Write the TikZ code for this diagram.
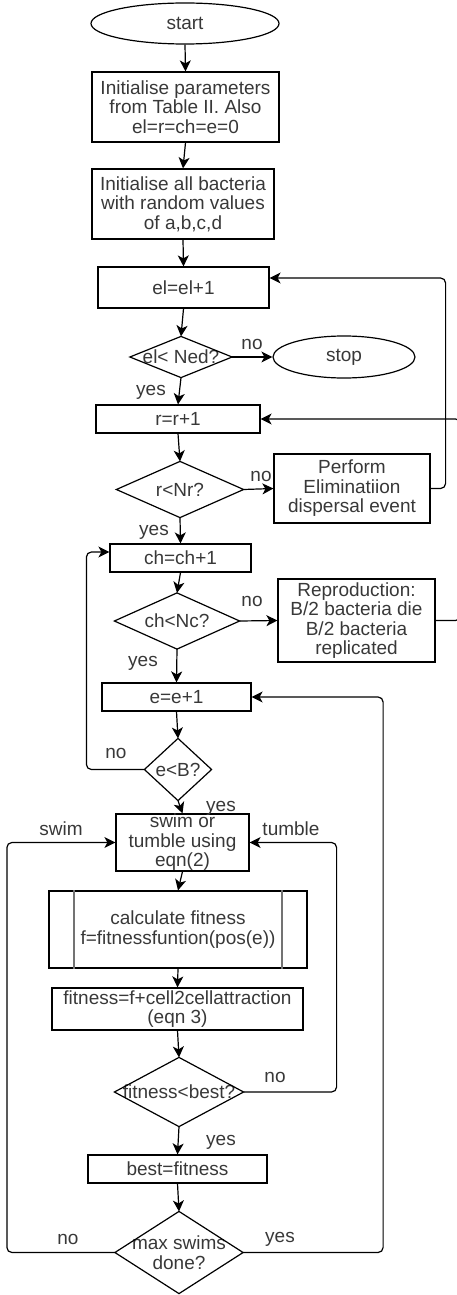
\documentclass[tikz,border=0pt]{standalone}
\usepackage{fontspec}
\setmainfont{Liberation Sans}
\usetikzlibrary{shapes.geometric, arrows.meta}
\begin{document}
\begin{tikzpicture}[x=1pt, y=-1pt,
  line width=1.2pt,
  txt/.style={font=\fontsize{19}{19.5}\selectfont, text=black!78, align=center},
  box/.style={txt, draw, rectangle, inner sep=0pt},
  term/.style={txt, draw, ellipse, inner sep=0pt},
  dia/.style={txt, rectangle, inner sep=0pt},
  lbl/.style={txt, inner sep=0pt},
  arr/.style={-{Stealth[length=11pt,width=11pt,inset=3pt]}, line width=1.2pt},
  loop/.style={arr, rounded corners=5pt},
]
\useasboundingbox (0,0) rectangle (457,1295);
\clip (0,0) rectangle (457,1295);

% nodes
\node[term, minimum width=188pt, minimum height=41pt] (start) at (185,23.5) {start};
\node[box, minimum width=187pt, minimum height=70pt] (init1) at (185.5,107) {Initialise parameters\\from Table II. Also\\el=r=ch=e=0};
\node[box, minimum width=182pt, minimum height=70pt] (init2) at (183,204) {Initialise all bacteria\\with random values\\of a,b,c,d};
\node[box, minimum width=171pt, minimum height=41pt] (el) at (183.5,287.5) {el=el+1};
\node[dia, minimum width=101pt, minimum height=40pt] (d1) at (181,357) {el< Ned?};
\node[term, minimum width=142pt, minimum height=42pt] (stop) at (344,357) {stop};
\node[box, minimum width=164pt, minimum height=28pt] (r) at (178,419) {r=r+1};
\node[dia, minimum width=126pt, minimum height=55pt] (d2) at (180,489.5) {r<Nr?};
\node[box, minimum width=156pt, minimum height=69pt] (perf) at (352,488.5) {Perform\\Eliminatiion\\dispersal event};
\node[box, minimum width=141pt, minimum height=28pt] (ch) at (180.5,558) {ch=ch+1};
\node[dia, minimum width=124pt, minimum height=55pt] (d3) at (177,621) {ch<Nc?};
\node[box, minimum width=157pt, minimum height=83pt] (rep) at (356.5,620.5) {Reproduction:\\B/2 bacteria die\\B/2 bacteria\\replicated};
\node[box, minimum width=149pt, minimum height=28pt] (e) at (176.5,697) {e=e+1};
\node[dia, minimum width=66pt, minimum height=61pt] (d4) at (178,769.5) {e<B?};
\node[box, minimum width=133pt, minimum height=57pt] (swim) at (182.5,842.5) {swim or\\tumble using\\eqn(2)};
\node[box, minimum width=258pt, minimum height=77pt] (calc) at (178,929.5) {calculate fitness\\f=fitnessfuntion(pos(e))};
\node[box, minimum width=251pt, minimum height=42pt] (fit) at (177.5,1009) {fitness=f+cell2cellattraction\\(eqn 3)};
\node[dia, minimum width=128pt, minimum height=68pt] (d5) at (179,1092) {fitness<best?};
\node[box, minimum width=179pt, minimum height=28pt] (best) at (177.5,1169) {best=fitness};
\node[dia, minimum width=127pt, minimum height=81pt] (d6) at (179,1252.5) {max swims\\done?};

% diamonds
\foreach \n in {d1,d2,d3,d4,d5,d6}
  \draw (\n.north) -- (\n.east) -- (\n.south) -- (\n.west) -- cycle;

% predefined process inner lines
\draw[black!55, line width=2pt] ([xshift=26pt]calc.north west) -- ([xshift=26pt]calc.south west);
\draw[black!55, line width=2pt] ([xshift=-26pt]calc.north east) -- ([xshift=-26pt]calc.south east);

% straight connectors
\draw[arr] (start.south) -- (init1.north);
\draw[arr] (init1.south) -- (init2.north);
\draw[arr] (init2.south) -- (el.north);
\draw[arr] (el.south) -- (d1.north);
\draw[arr] (d1.east) -- (stop.west);
\draw[arr] (d1.south) -- (r.north);
\draw[arr] (r.south) -- (d2.north);
\draw[arr] (d2.east) -- (perf.west);
\draw[arr] (d2.south) -- (ch.north);
\draw[arr] (ch.south) -- (d3.north);
\draw[arr] (d3.east) -- (rep.west);
\draw[arr] (d3.south) -- (e.north);
\draw[arr] (e.south) -- (d4.north);
\draw[arr] (d4.south) -- (swim.north);
\draw[arr] (swim.south) -- (calc.north);
\draw[arr] (calc.south) -- (fit.north);
\draw[arr] (fit.south) -- (d5.north);
\draw[arr] (d5.south) -- (best.north);
\draw[arr] (best.south) -- (d6.north);

% loops
\draw[loop] (perf.east) -- ++(15,0) |- ([yshift=9.5pt]el.east);
\draw[loop] (rep.east) -- ++(25,0) |- (r.east);
\draw[loop] (d4.west) -- ++(-58,0) |- ([yshift=6pt]ch.west);
\draw[loop] (d5.east) -- ++(93,0) |- (swim.east);
\draw[loop] (d6.west) -- ++(-108,0) |- (swim.west);
\draw[loop] (d6.east) -- ++(140,0) |- (e.east);

% labels
\node[lbl] (l1) at (252,344) {no};
\node[lbl] (l2) at (151,392) {yes};
\node[lbl] (l3) at (261,476) {no};
\node[lbl] (l4) at (154,532) {yes};
\node[lbl] (l5) at (252,601) {no};
\node[lbl] (l6) at (143,663) {yes};
\node[lbl] (l7) at (116,753) {no};
\node[lbl] (l8) at (221,808) {yes};
\node[lbl] (l9) at (61,829) {swim};
\node[lbl] (l10) at (291,829) {tumble};
\node[lbl] (l11) at (275,1077) {no};
\node[lbl] (l12) at (221,1142) {yes};
\node[lbl] (l13) at (68,1239) {no};
\node[lbl] (l14) at (280,1239) {yes};
\end{tikzpicture}
\end{document}
